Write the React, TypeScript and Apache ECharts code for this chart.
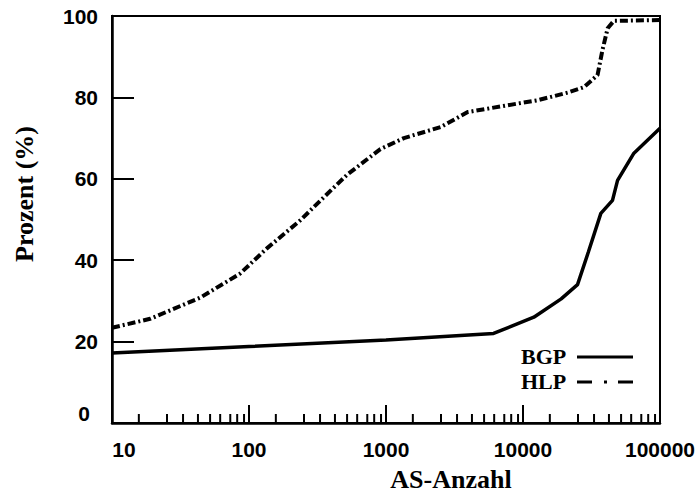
import React, { useEffect, useRef } from 'react';
import * as echarts from 'echarts';

// Axis ticks
const xTickLabels = [10, 100, 1000, 10000, 100000];
const yTickLabels = [0, 20, 40, 60, 80, 100];
const minorDecades = [10, 100, 1000, 10000];
const minorTickMultipliers = [1.57, 2.52, 3.3, 4.24, 5.2, 6.16, 7.3, 8.2, 9.2];

// Series
const seriesNames = ['BGP', 'HLP'];
const bgpX = [10, 100, 1000, 6100, 12000, 19000, 25000, 30000, 37000, 45000, 49000, 64500, 100000];
const bgpY = [17.2, 18.8, 20.4, 22.0, 26.0, 30.5, 34.0, 42.0, 51.5, 54.7, 59.6, 66.3, 72.4];
const hlpX = [10, 19, 44, 86, 135, 237, 350, 520, 910, 1350, 2500, 3950, 6900, 12800, 21300, 27800, 35000, 38000, 41500, 46000, 100000];
const hlpY = [23.4, 25.6, 30.8, 36.7, 42.9, 49.8, 55.4, 61.0, 67.3, 70.0, 72.7, 76.4, 77.8, 79.3, 81.2, 82.5, 85.5, 91.6, 97.0, 98.8, 99.0];

const sansFont = '"Liberation Sans", Arial, sans-serif';
const serifFont = '"Liberation Serif", "Times New Roman", serif';
const hlpDash = [8, 3, 2, 3];
const hlpLegendDash = [15, 12, 3, 11];

export default function App() {
  const ref = useRef<HTMLDivElement>(null);
  useEffect(() => {
    if (!ref.current) return;
    const chart = echarts.init(ref.current, null, { renderer: 'svg' });
    const minorTicks: number[][] = [];
    minorDecades.forEach((d) => minorTickMultipliers.forEach((m) => minorTicks.push([d * m, 0])));
    const labelStyle = { fontSize: 21, fontWeight: 'bold' as const, fontFamily: sansFont, color: '#000' };
    const legendFont = 'bold 22px ' + serifFont;
    chart.setOption({
      animation: false,
      backgroundColor: '#fff',
      grid: {
        left: 112, top: 16, right: 39, bottom: 74,
        outerBoundsMode: 'none', containLabel: false,
        show: true, borderColor: '#000', borderWidth: 2,
      },
      graphic: [
        { type: 'text', left: 521, top: 345, style: { text: seriesNames[0], font: legendFont, fill: '#000' } },
        { type: 'line', shape: { x1: 577, y1: 357, x2: 633, y2: 357 }, style: { stroke: '#000', lineWidth: 3 } },
        { type: 'text', left: 521, top: 370, style: { text: seriesNames[1], font: legendFont, fill: '#000' } },
        { type: 'line', shape: { x1: 577, y1: 382, x2: 633, y2: 382 }, style: { stroke: '#000', lineWidth: 3, lineDash: hlpLegendDash } },
      ],
      xAxis: {
        type: 'log',
        logBase: 10,
        min: 10,
        max: 100000,
        interval: 1,
        name: 'AS-Anzahl',
        nameLocation: 'middle',
        nameGap: 43,
        nameTextStyle: { fontSize: 26, fontWeight: 'bold', fontFamily: serifFont, color: '#000', padding: [0, 0, 0, 130] },
        axisLine: { show: true, lineStyle: { color: '#000', width: 2.5 } },
        axisTick: { show: true, inside: true, length: 18, lineStyle: { color: '#000', width: 2 } },
        splitLine: { show: false },
        axisLabel: {
          ...labelStyle,
          margin: 16,
          showMinLabel: true,
          showMaxLabel: true,
          formatter: (v: number) => {
            const r = Math.round(v);
            const s = String(xTickLabels.find((t) => Math.abs(t - r) / t < 0.01) ?? r);
            return r === xTickLabels[0] ? '{first|' + s + '}' : s;
          },
          rich: { first: { ...labelStyle, padding: [0, 0, 0, 24] } },
        },
      },
      yAxis: {
        type: 'value',
        min: yTickLabels[0],
        max: yTickLabels[yTickLabels.length - 1],
        interval: 20,
        name: 'Prozent (%)',
        nameLocation: 'middle',
        nameGap: 75,
        nameTextStyle: { fontSize: 26, fontWeight: 'bold', fontFamily: serifFont, color: '#000', padding: [0, 0, 0, 51] },
        axisLine: { show: true, lineStyle: { color: '#000', width: 2.5 } },
        axisTick: { show: true, inside: true, length: 22, lineStyle: { color: '#000', width: 2 } },
        splitLine: { show: false },
        axisLabel: {
          ...labelStyle,
          margin: 14,
          formatter: (v: number) => (v === 0 ? '{zero|0}' : String(v)),
          rich: { zero: { ...labelStyle, padding: [0, 8, 20, 0] } },
        },
      },
      series: [
        {
          name: seriesNames[0],
          type: 'line',
          data: bgpX.map((x, i) => [x, bgpY[i]]),
          symbol: 'none',
          lineStyle: { color: '#000', width: 3.5 },
          itemStyle: { color: '#000' },
        },
        {
          name: seriesNames[1],
          type: 'line',
          data: hlpX.map((x, i) => [x, hlpY[i]]),
          symbol: 'none',
          lineStyle: { color: '#000', width: 4, type: hlpDash },
          itemStyle: { color: '#000' },
        },
        {
          name: 'minorTicks',
          type: 'custom',
          silent: true,
          data: minorTicks,
          renderItem: (_p: any, api: any) => {
            const pt = api.coord([api.value(0), 0]);
            return {
              type: 'line',
              shape: { x1: pt[0], y1: pt[1], x2: pt[0], y2: pt[1] - 9 },
              style: { stroke: '#000', lineWidth: 2 },
            };
          },
        },
      ],
    });
    return () => chart.dispose();
  }, []);
  return <div ref={ref} style={{ position: 'absolute', left: 0, top: 0, width: 699, height: 497 }} />;
}
